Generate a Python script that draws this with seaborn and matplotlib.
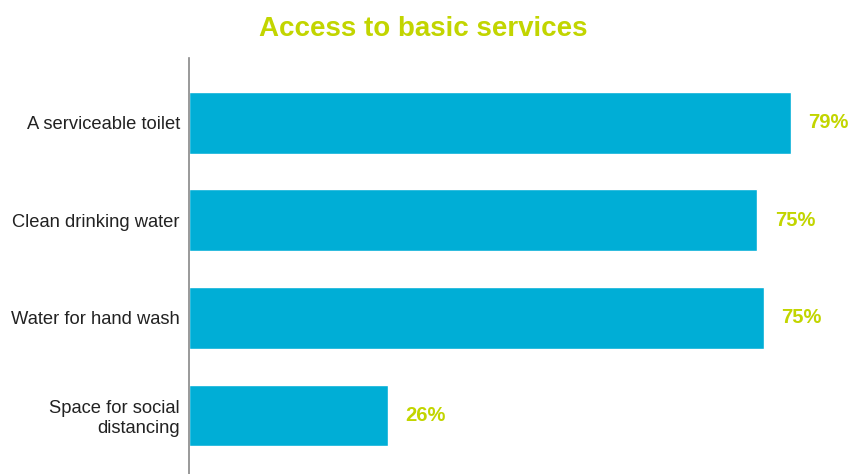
import matplotlib
matplotlib.use("Agg")
import matplotlib.pyplot as plt
import seaborn as sns
import pandas as pd

categories = ["A serviceable toilet", "Clean drinking water", "Water for hand wash",
              "Space for social\ndistancing"]
shares = [79.0, 74.6, 75.4, 26.1]

BAR = "#00AED6"
ACCENT = "#C2D500"

sns.set_style("white")
plt.rcParams["font.family"] = ["Liberation Sans", "DejaVu Sans"]

df = pd.DataFrame({"category": categories, "share": shares})

fig = plt.figure(figsize=(8.48, 4.74), dpi=100)
ax = fig.add_axes([189 / 848, 0.0, 1 - 189 / 848, 1 - 58 / 474])

sns.barplot(data=df, x="share", y="category", color=BAR, width=0.633,
            saturation=1, ax=ax, orient="h")

ax.set_xlim(0, (848 - 189) / 7.62)
ax.set_ylim(3.6, -0.663)

for i, v in enumerate(shares):
    ax.annotate(f"{round(v)}%", xy=(v, i), xytext=(12.5, 0), textcoords="offset points",
                ha="left", va="center", fontsize=14.5, fontweight="bold", color=ACCENT)

ax.set_xlabel("")
ax.set_ylabel("")
ax.set_xticks([])
ax.tick_params(axis="y", length=0, pad=6.5, labelsize=13.2, labelcolor="#222222")
for s in ["top", "right", "bottom"]:
    ax.spines[s].set_visible(False)
ax.spines["left"].set_color("#888888")
ax.spines["left"].set_linewidth(1.2)

fig.text(423 / 848, 1 - 29 / 474, "Access to basic services", ha="center", va="center",
         fontsize=20, fontweight="bold", color=ACCENT)

fig.savefig("out.png", dpi=100, facecolor="white")
